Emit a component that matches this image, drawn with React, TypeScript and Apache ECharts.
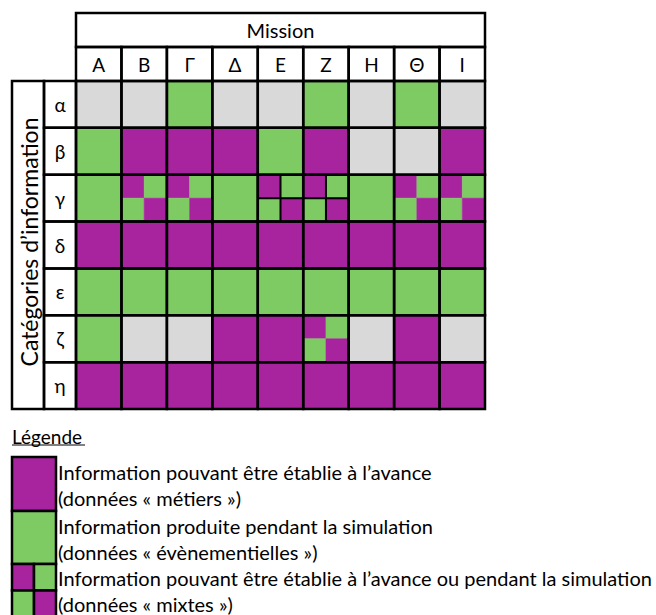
import React, { useEffect, useRef } from "react";
import * as echarts from "echarts";

// Columns (missions) and rows (information categories)
const columns = ["A", "B", "Γ", "Δ", "E", "Z", "H", "Θ", "I"];
const rows = ["α", "β", "γ", "δ", "ε", "ζ", "η"];

// 0 = non concerné (gris), 1 = métier (violet), 2 = évènementiel (vert),
// 3 = mixte, 4 = mixte (avec séparations)
const rowAlpha = [0, 0, 2, 0, 0, 2, 0, 2, 0];
const rowBeta = [2, 1, 1, 1, 2, 1, 0, 0, 1];
const rowGamma = [2, 3, 3, 2, 4, 4, 2, 3, 3];
const rowDelta = [1, 1, 1, 1, 1, 1, 1, 1, 1];
const rowEpsilon = [2, 2, 2, 2, 2, 2, 2, 2, 2];
const rowZeta = [2, 0, 0, 1, 1, 3, 0, 1, 0];
const rowEta = [1, 1, 1, 1, 1, 1, 1, 1, 1];
const cellRows = [rowAlpha, rowBeta, rowGamma, rowDelta, rowEpsilon, rowZeta, rowEta];

const legendLines = [
  "Information pouvant être établie à l’avance",
  "(données « métiers »)",
  "Information produite pendant la simulation",
  "(données « évènementielles »)",
  "Information pouvant être établie à l’avance ou pendant la simulation",
  "(données « mixtes »)",
];

const PURPLE = "#A8239E";
const GREEN = "#7ECB63";
const GREY = "#D9D9D9";
const FILLS = [GREY, PURPLE, GREEN];
const FONT = "Lato, 'Open Sans', sans-serif";
const LW = 2.5;

export default function App() {
  const ref = useRef<HTMLDivElement>(null);
  useEffect(() => {
    document.body.style.margin = "0";
    const chart = echarts.init(ref.current!, null, { renderer: "svg" });
    const cellData: number[][] = [];
    cellRows.forEach((vals, r) => vals.forEach((v, c) => cellData.push([c, r, v])));

    const rect = (x: number, y: number, w: number, h: number, fill: string) => ({
      type: "rect",
      shape: { x, y, width: w, height: h },
      style: { fill, stroke: fill, lineWidth: 0.5 },
      z2: 0,
    });

    const cellSeries = {
      type: "custom",
      encode: { x: 0, y: 1 },
      data: cellData,
      renderItem: (params: any, api: any) => {
        const ci = api.value(0);
        const ri = api.value(1);
        const code = api.value(2);
        const c = api.coord([ci, ri]);
        const s = api.size([1, 1]);
        const w = s[0];
        const h = s[1];
        const x = c[0] - w / 2;
        const y = c[1] - h / 2;
        const children: any[] = [];
        if (code <= 2) {
          children.push(rect(x, y, w, h, FILLS[code]));
        } else {
          const hw = w / 2;
          const hh = h / 2;
          children.push(rect(x, y, hw, hh, PURPLE));
          children.push(rect(x + hw, y, hw, hh, GREEN));
          children.push(rect(x, y + hh, hw, hh, GREEN));
          children.push(rect(x + hw, y + hh, hw, hh, PURPLE));
          if (code === 4) {
            children.push({
              type: "line",
              shape: { x1: x + hw, y1: y, x2: x + hw, y2: y + h },
              style: { stroke: "#000", lineWidth: 2 },
              z2: 5,
            });
            children.push({
              type: "line",
              shape: { x1: x, y1: y + hh, x2: x + w, y2: y + hh },
              style: { stroke: "#000", lineWidth: 2 },
              z2: 5,
            });
          }
        }
        children.push({
          type: "rect",
          shape: { x, y, width: w, height: h },
          style: { fill: "none", stroke: "#000", lineWidth: LW },
          z2: 10,
        });
        return { type: "group", children };
      },
    };

    const HDR_H = 34;
    const colHeaderSeries = {
      type: "custom",
      encode: { x: 0, y: 1 },
      data: columns.map((_, i) => [i, 0]),
      renderItem: (params: any, api: any) => {
        const c = api.coord([api.value(0), 0]);
        const w = api.size([1, 1])[0];
        const top = params.coordSys.y;
        return {
          type: "rect",
          shape: { x: c[0] - w / 2, y: top - HDR_H, width: w, height: HDR_H },
          style: { fill: "none", stroke: "#000", lineWidth: LW },
          z2: 10,
        };
      },
    };

    const ROW_W = 32;
    const rowHeaderSeries = {
      type: "custom",
      encode: { x: 0, y: 1 },
      data: rows.map((_, i) => [0, i]),
      renderItem: (params: any, api: any) => {
        const c = api.coord([0, api.value(1)]);
        const h = api.size([1, 1])[1];
        const left = params.coordSys.x;
        return {
          type: "rect",
          shape: { x: left - ROW_W, y: c[1] - h / 2, width: ROW_W, height: h },
          style: { fill: "none", stroke: "#000", lineWidth: LW },
          z2: 10,
        };
      },
    };

    const legendY = [472, 498, 526, 552, 578, 604];
    const graphic: any[] = [
      {
        type: "rect",
        shape: { x: 76, y: 13, width: 409, height: 34 },
        style: { fill: "none", stroke: "#000", lineWidth: LW },
      },
      {
        type: "text",
        x: 280.5,
        y: 30,
        style: { text: "Mission", fontSize: 20, fontFamily: FONT, fill: "#000", align: "center", verticalAlign: "middle" },
      },
      {
        type: "rect",
        shape: { x: 12, y: 81, width: 32, height: 328 },
        style: { fill: "none", stroke: "#000", lineWidth: LW },
      },
      {
        type: "text",
        x: 29,
        y: 242,
        rotation: Math.PI / 2,
        style: {
          text: "Catégories d’information",
          fontSize: 23,
          fontFamily: FONT,
          fill: "#000",
          align: "center",
          verticalAlign: "middle",
        },
      },
      {
        type: "text",
        x: 12,
        y: 436,
        style: { text: "Légende", fontSize: 19, fontFamily: FONT, fill: "#000", align: "left", verticalAlign: "middle" },
      },
      {
        type: "line",
        shape: { x1: 12, y1: 445, x2: 85, y2: 445 },
        style: { stroke: "#000", lineWidth: 1 },
      },
      // legend swatches
      { type: "rect", shape: { x: 12, y: 457, width: 44, height: 54 }, style: { fill: PURPLE, stroke: "#000", lineWidth: LW } },
      { type: "rect", shape: { x: 12, y: 511, width: 44, height: 53 }, style: { fill: GREEN, stroke: "#000", lineWidth: LW } },
      { type: "rect", shape: { x: 12, y: 564, width: 22, height: 26.5 }, style: { fill: PURPLE, stroke: "#000", lineWidth: LW } },
      { type: "rect", shape: { x: 34, y: 564, width: 22, height: 26.5 }, style: { fill: GREEN, stroke: "#000", lineWidth: LW } },
      { type: "rect", shape: { x: 12, y: 590.5, width: 22, height: 27 }, style: { fill: GREEN, stroke: "#000", lineWidth: LW } },
      { type: "rect", shape: { x: 34, y: 590.5, width: 22, height: 27 }, style: { fill: PURPLE, stroke: "#000", lineWidth: LW } },
      ...legendLines.map((t, i) => ({
        type: "text",
        x: 58,
        y: legendY[i],
        style: { text: t, fontSize: 20, fontFamily: FONT, fill: "#000", align: "left", verticalAlign: "middle" },
      })),
    ];

    chart.setOption({
      animation: false,
      grid: { left: 76, top: 81, width: 409, height: 328 },
      xAxis: {
        type: "category",
        data: columns,
        position: "top",
        axisLine: { show: false },
        axisTick: { show: false },
        splitLine: { show: false },
        axisLabel: { interval: 0, fontSize: 19, color: "#000", fontFamily: FONT, margin: 17, verticalAlign: "middle" },
      },
      yAxis: {
        type: "category",
        data: rows,
        inverse: true,
        axisLine: { show: false },
        axisTick: { show: false },
        splitLine: { show: false },
        axisLabel: { interval: 0, fontSize: 19, color: "#000", fontFamily: FONT, margin: 16, align: "center" },
      },
      series: [cellSeries, colHeaderSeries, rowHeaderSeries],
      graphic,
    });
    return () => chart.dispose();
  }, []);
  return <div ref={ref} style={{ width: 656, height: 615 }} />;
}
